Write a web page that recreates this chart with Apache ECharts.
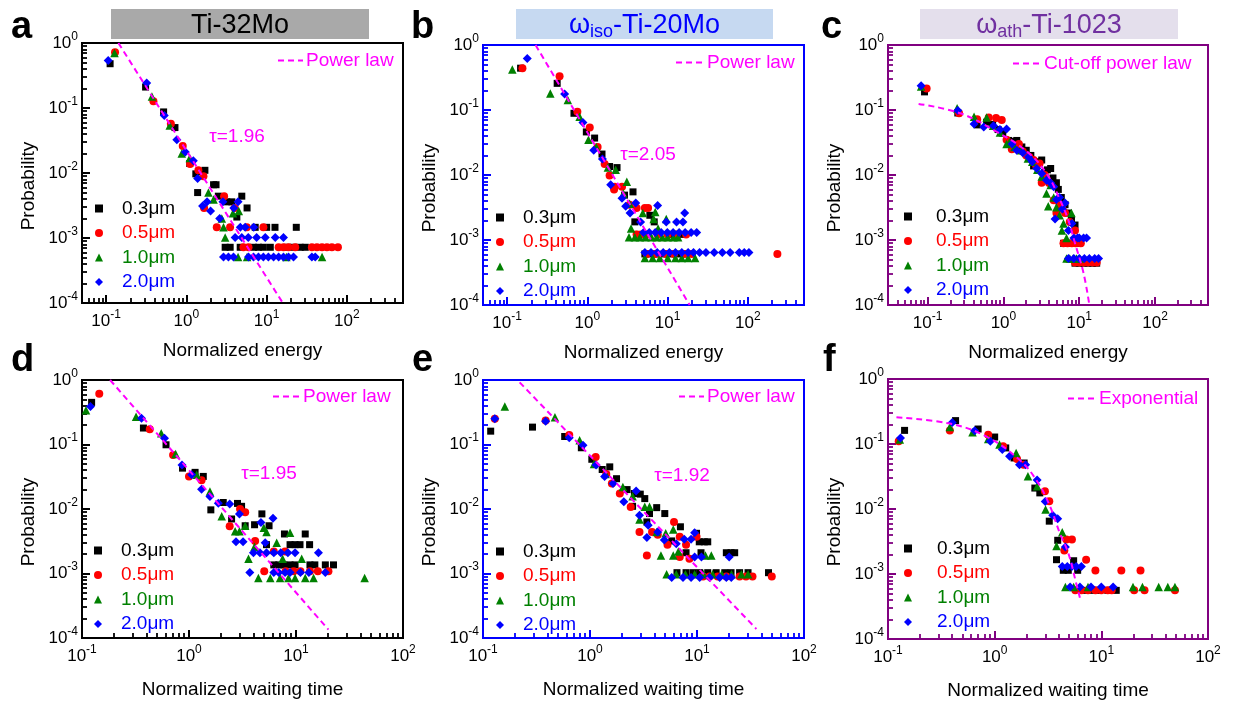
<!DOCTYPE html>
<html><head><meta charset="utf-8">
<script src="https://cdn.jsdelivr.net/npm/echarts@6/dist/echarts.min.js"></script>
<style>html,body{margin:0;padding:0;background:#fff}#c{width:1237px;height:702px}</style>
</head><body><div id="c"></div><script>
// ---------- DATA ----------
const seriesNames = ['0.3μm','0.5μm','1.0μm','2.0μm'];

// panel a : Ti-32Mo, normalized energy
const a03 = [[0.112,0.48],[0.31,0.21],[0.52,0.087],[0.72,0.05],[1.1,0.014],[1.31,0.0097],[1.55,0.0105],[1.7,0.011],[1.38,0.005],[2.18,0.0066],[2.34,0.0066],[2.5,0.0044],[3.18,0.0036],[3.68,0.0036],[4.9,0.0044],[4.25,0.0021],[5.7,0.0029],[7.2,0.00146],[10,0.00146],[12.7,0.00146],[23.4,0.00146],[3.04,0.00072],[3.51,0.00072],[4.68,0.00072],[6.86,0.00072],[7.9,0.00072],[9.1,0.00072],[11.1,0.00072],[17.9,0.00072],[21.6,0.00072],[26.2,0.00072],[30.3,0.00072]];
const a05 = [[0.129,0.72],[0.388,0.127],[0.64,0.057],[0.9,0.026],[1.11,0.0138],[1.41,0.011],[1.63,0.0089],[1.66,0.0029],[2.95,0.0044],[4.0,0.0029],[2.39,0.00146],[3.5,0.00146],[5.66,0.00146],[9.1,0.00146],[5.14,0.00072],[5.94,0.00072],[14.1,0.00072],[16.2,0.00072],[18.7,0.00072],[22.7,0.00072],[36.6,0.00072],[42.3,0.00072],[48.9,0.00072],[56.4,0.00072],[65,0.00072],[77.3,0.00072]];
const a10 = [[0.127,0.70],[0.372,0.15],[0.62,0.054],[0.875,0.02],[1.1,0.017],[1.88,0.005],[2.18,0.0039],[2.76,0.002],[3.8,0.0024],[4.5,0.0026],[2.9,0.00146],[3.04,0.00102],[4.4,0.00051],[5.7,0.00051],[17.6,0.00051],[49,0.00051]];
const a20 = [[0.106,0.54],[0.32,0.243],[0.53,0.077],[0.76,0.0326],[0.97,0.021],[1.22,0.0155],[1.38,0.0082],[1.59,0.0031],[1.81,0.0036],[2.0,0.0026],[2.6,0.002],[2.85,0.0036],[4.4,0.0036],[3.9,0.0029],[4.05,0.00102],[4.9,0.00102],[5.9,0.00102],[7.5,0.00102],[9.6,0.00102],[12.8,0.00102],[16.2,0.00102],[4.7,0.00146],[5.4,0.00146],[6.9,0.00146],[2.9,0.00051],[3.34,0.00051],[3.86,0.00051],[5.94,0.00051],[6.86,0.00051],[7.9,0.00051],[9.1,0.00051],[10.5,0.00051],[12.2,0.00051],[14.1,0.00051],[16.2,0.00051],[18.7,0.00051],[21.6,0.00051],[36.6,0.00051],[40.3,0.00051]];
const fitAX = [0.142, 15.9];
const fitAY = [1, 1e-4];

// panel b : omega_iso-Ti-20Mo, normalized energy
const b03 = [[0.147,0.44],[0.42,0.257],[0.68,0.089],[0.97,0.046],[1.23,0.037],[1.52,0.021],[1.89,0.0135],[2.34,0.013],[2.9,0.0049],[3.7,0.0055],[3.9,0.0019],[6.0,0.0024],[6.8,0.0019],[4.1,0.00122],[5.2,0.00122],[11.7,0.00122],[14.8,0.00122],[5.2,0.00061],[6.0,0.00061],[7.0,0.00061],[9.0,0.00061],[11,0.00061],[14,0.00061],[17,0.00061]];
const b05 = [[0.155,0.44],[0.45,0.33],[0.75,0.094],[1.07,0.054],[1.34,0.027],[1.64,0.0148],[1.89,0.0098],[2.2,0.0066],[2.15,0.006],[2.7,0.0066],[3.35,0.0035],[4.1,0.0031],[5.2,0.0031],[5.7,0.0031],[4.1,0.00122],[4.7,0.00122],[5.5,0.00122],[7.5,0.00122],[10,0.00122],[13,0.00122],[17,0.00122],[5.5,0.00061],[7,0.00061],[9.5,0.00061],[12,0.00061],[16,0.00061],[20,0.00061],[233,0.00061]];
const b10 = [[0.116,0.42],[0.345,0.18],[0.57,0.143],[0.8,0.079],[1.03,0.035],[1.29,0.027],[1.8,0.013],[2.25,0.012],[3.1,0.0079],[2.8,0.0052],[3.35,0.0036],[4.9,0.0026],[7.0,0.0027],[6.7,0.0021],[9.6,0.0021],[3.5,0.0015],[7.6,0.0015],[3.3,0.0011],[3.9,0.0011],[4.5,0.0011],[5.3,0.0011],[6.3,0.0011],[7.3,0.0011],[8.6,0.0011],[10,0.0011],[11.8,0.0011],[13.5,0.0011],[5.2,0.00053],[6.5,0.00053],[8,0.00053],[10,0.00053],[12.5,0.00053],[15,0.00053],[18,0.00053],[22,0.00053]];
const b20 = [[0.178,0.62],[0.52,0.176],[0.88,0.064],[1.2,0.024],[1.54,0.0176],[1.95,0.0071],[2.7,0.0044],[3.0,0.0033],[3.4,0.0026],[4.0,0.0037],[4.6,0.0019],[7.5,0.0034],[9.6,0.0019],[12.9,0.0019],[16.3,0.0026],[15.5,0.0019],[5.0,0.0013],[5.9,0.0013],[7.0,0.0013],[8.3,0.0013],[9.9,0.0013],[11.7,0.0013],[13.9,0.0013],[16.5,0.0013],[19.6,0.0013],[23,0.0013],[5.2,0.00064],[6.2,0.00064],[7.4,0.00064],[8.8,0.00064],[10.5,0.00064],[12.5,0.00064],[15,0.00064],[18,0.00064],[21,0.00064],[25,0.00064],[30,0.00064],[38,0.00064],[48,0.00064],[60,0.00064],[78,0.00064],[90,0.00064],[103,0.00064]];
const fitBX = [0.226, 18.8];
const fitBY = [1, 1e-4];

// panel c : omega_ath-Ti-1023, normalized energy
const c03 = [[0.091,0.19],[0.25,0.09],[0.45,0.059],[0.6,0.065],[0.72,0.06],[0.85,0.05],[0.98,0.044],[1.17,0.034],[1.3,0.033],[1.5,0.034],[1.75,0.027],[2.0,0.024],[2.3,0.02],[2.5,0.0138],[2.8,0.016],[3.2,0.017],[3.5,0.011],[3.8,0.012],[4.2,0.0126],[4.5,0.009],[5.0,0.0076],[5.3,0.006],[5.8,0.0045],[6.5,0.0035],[7.2,0.0026],[7.9,0.0021],[8.8,0.0017],[6.2,0.00089],[7.0,0.00089],[8.0,0.00089],[10,0.00089],[8.8,0.00044],[10,0.00044],[11.5,0.00044],[13,0.00044],[15,0.00044],[17,0.00044]];
const c05 = [[0.097,0.215],[0.26,0.089],[0.45,0.072],[0.64,0.077],[0.8,0.075],[0.95,0.07],[1.1,0.035],[1.29,0.025],[1.4,0.028],[1.6,0.03],[1.8,0.023],[2.0,0.02],[2.2,0.019],[2.5,0.017],[2.7,0.014],[3.0,0.015],[3.2,0.0076],[3.5,0.01],[4.0,0.0075],[4.6,0.0041],[5.0,0.0026],[5.5,0.0035],[6.0,0.003],[6.5,0.0026],[7.5,0.0019],[8.8,0.0014],[6.2,0.00089],[7.0,0.00089],[8.0,0.00089],[9.0,0.00089],[10.5,0.00089],[8.8,0.00045],[10,0.00045],[11.5,0.00045],[13,0.00045],[15,0.00045],[17,0.00045]];
const c10 = [[0.082,0.23],[0.245,0.106],[0.41,0.079],[0.6,0.077],[0.73,0.057],[0.9,0.045],[1.1,0.03],[1.2,0.032],[1.4,0.027],[1.7,0.024],[2.1,0.018],[2.4,0.016],[2.8,0.012],[3.2,0.0095],[3.7,0.0052],[3.9,0.0033],[4.2,0.007],[4.6,0.0045],[5.0,0.0032],[5.5,0.0024],[5.9,0.0014],[6.2,0.0018],[6.8,0.00107],[7.9,0.0026],[6.8,0.00052],[7.5,0.00052],[8.3,0.00052],[9.2,0.00052],[10.2,0.00052]];
const c20 = [[0.082,0.237],[0.25,0.098],[0.41,0.061],[0.55,0.055],[0.74,0.057],[0.9,0.05],[1.1,0.051],[1.3,0.03],[1.5,0.024],[1.8,0.022],[2.14,0.019],[2.4,0.016],[2.75,0.0126],[3.2,0.0105],[3.7,0.0083],[4.2,0.0075],[4.6,0.0066],[5.0,0.0042],[5.5,0.0045],[6.0,0.003],[6.5,0.0037],[4.8,0.0021],[7.2,0.0014],[8.0,0.0018],[8.5,0.00107],[9.5,0.00107],[10,0.00107],[11.4,0.00107],[12.5,0.00107],[7.2,0.00052],[8.5,0.00052],[10,0.00052],[11.7,0.00052],[13.6,0.00052],[16,0.00052],[18,0.00052]];
const fitCX = [0.076, 0.27, 0.82, 2.04, 3.7, 5.6, 7.2, 8.8, 11.4, 13.6];
const fitCY = [0.124, 0.089, 0.046, 0.023, 0.0106, 0.0041, 0.0020, 0.00089, 0.00031, 1e-4];

// panel d : Ti-32Mo, normalized waiting time
const d03 = [[0.123,0.45],[0.375,0.18],[0.61,0.099],[0.87,0.043],[1.14,0.037],[1.36,0.032],[1.6,0.0097],[2.09,0.0126],[2.5,0.007],[2.84,0.0122],[3.1,0.011],[3.35,0.0055],[4.1,0.0057],[4.8,0.0084],[5.6,0.0055],[5.3,0.0028],[7.8,0.0041],[12.2,0.0041],[8.8,0.0028],[9.8,0.0028],[10.9,0.0028],[13.4,0.0028],[6.2,0.00136],[6.9,0.00136],[7.7,0.00136],[8.8,0.00136],[9.8,0.00136],[13.5,0.00136],[15,0.00136],[18.8,0.00136],[22.4,0.00136]];
const d05 = [[0.145,0.61],[0.43,0.172],[0.71,0.069],[1.0,0.032],[1.31,0.028],[2.4,0.0054],[3.0,0.01],[3.35,0.0089],[4.15,0.0032],[6.2,0.0022],[7.9,0.0022],[5.05,0.00108],[8.0,0.00108],[9.5,0.00108],[11,0.00108],[13.5,0.00108],[16,0.00108],[20.1,0.00108]];
const d10 = [[0.109,0.34],[0.32,0.27],[0.55,0.149],[0.75,0.071],[1.18,0.034],[1.57,0.0187],[2.02,0.0077],[2.7,0.0045],[2.96,0.0045],[3.35,0.0055],[3.6,0.0017],[4.1,0.0026],[5.0,0.0051],[5.3,0.0044],[6.6,0.003],[8.8,0.0043],[11.3,0.0017],[7.5,0.0017],[4.45,0.00085],[5.75,0.00085],[7.1,0.00085],[8.5,0.00085],[9.8,0.00085],[12.2,0.00085],[14.6,0.00085],[43.8,0.00085]];
const d20 = [[0.12,0.39],[0.36,0.255],[0.59,0.125],[0.86,0.048],[1.06,0.034],[1.31,0.0203],[1.57,0.0156],[1.88,0.0123],[2.4,0.012],[2.75,0.0031],[3.2,0.0031],[2.96,0.0084],[4.7,0.0062],[5.15,0.003],[6.1,0.0072],[4.0,0.0021],[4.6,0.0021],[5.3,0.0021],[6.2,0.0021],[7.2,0.0021],[8.4,0.0021],[9.8,0.0021],[16.2,0.0021],[3.7,0.00104],[6.2,0.00104],[6.9,0.00104],[7.9,0.00104],[8.8,0.00104],[11,0.00104],[13.2,0.00104],[18.8,0.00104]];
const fitDX = [0.183, 20.1];
const fitDY = [1, 1.35e-4];

// panel e : omega_iso-Ti-20Mo, normalized waiting time
const e03 = [[0.118,0.161],[0.29,0.186],[0.58,0.133],[0.83,0.089],[1.04,0.059],[1.3,0.041],[1.53,0.045],[1.77,0.0295],[2.22,0.02],[2.6,0.0174],[2.95,0.017],[3.25,0.0145],[2.5,0.011],[3.6,0.0085],[4.2,0.0105],[3.4,0.0063],[5.0,0.0085],[5.8,0.0032],[7.0,0.0053],[9.9,0.0042],[7.9,0.0021],[10.5,0.0031],[11.7,0.0031],[12.6,0.0031],[10.9,0.0021],[18.8,0.0021],[20.8,0.0021],[22.5,0.0021],[6.5,0.00103],[7.9,0.00103],[9.2,0.00103],[10.6,0.00103],[12.6,0.00103],[15.1,0.00103],[18.2,0.00103],[20.8,0.00103],[25,0.00103],[30,0.00103],[46.6,0.00103]];
const e05 = [[0.129,0.25],[0.385,0.236],[0.64,0.141],[1.13,0.064],[1.42,0.035],[1.6,0.0248],[1.9,0.0174],[2.4,0.0107],[2.9,0.0044],[3.4,0.0019],[3.8,0.0044],[4.3,0.004],[5.3,0.0028],[6.1,0.0063],[6.9,0.0037],[7.9,0.0028],[8.5,0.0017],[6.9,0.0018],[9.9,0.0037],[11.4,0.0009],[13.1,0.0009],[15.6,0.0009],[18.8,0.0009],[25,0.0009],[28.7,0.0009],[33,0.0009],[50,0.0009]];
const e10 = [[0.16,0.39],[0.47,0.265],[0.8,0.116],[1.09,0.05],[1.4,0.035],[2.03,0.022],[2.5,0.0158],[2.9,0.0069],[3.25,0.0108],[3.6,0.0108],[4.2,0.0044],[5.1,0.0042],[6.0,0.0048],[6.7,0.0022],[4.6,0.0019],[6.0,0.0019],[12,0.0019],[13.6,0.0019],[5.2,0.00097],[6.4,0.00097],[7.8,0.00097],[9.5,0.00097],[11.5,0.00097],[14,0.00097],[17,0.00097],[21,0.00097],[26,0.00097],[30,0.00097]];
const e20 = [[0.129,0.25],[0.385,0.23],[0.64,0.127],[0.86,0.097],[1.14,0.048],[1.37,0.032],[1.64,0.0248],[2.07,0.0129],[2.7,0.019],[2.9,0.008],[3.5,0.0056],[3.4,0.0036],[4.3,0.0044],[4.95,0.0033],[6.4,0.0029],[7.6,0.0034],[8.8,0.0034],[9.5,0.0043],[9.5,0.0018],[11,0.0018],[20,0.0018],[5.8,0.00087],[7.4,0.00087],[8.8,0.00087],[10.6,0.00087],[13.1,0.00087],[16.3,0.00087],[18.8,0.00087],[20.9,0.00087]];
const fitEX = [0.22, 35.9];
const fitEY = [0.92, 1.38e-4];

// panel f : omega_ath-Ti-1023, normalized waiting time
const f03 = [[0.143,0.162],[0.43,0.229],[0.7,0.17],[1.0,0.128],[1.27,0.087],[1.52,0.061],[1.89,0.051],[2.38,0.021],[2.65,0.0177],[3.25,0.0065],[3.9,0.0033],[3.8,0.00166],[4.4,0.00114],[4.9,0.00114],[5.5,0.0016],[6.0,0.00114],[6.9,0.00056],[8,0.00056],[9.5,0.00056],[11.5,0.00056],[13.8,0.00056]];
const f05 = [[0.126,0.11],[0.38,0.162],[0.87,0.139],[1.2,0.092],[1.62,0.059],[1.87,0.048],[2.96,0.0187],[3.25,0.0132],[4.7,0.0034],[5.3,0.0034],[4.5,0.0023],[7.2,0.00166],[8.8,0.00113],[15.4,0.00113],[23.3,0.00113],[5.7,0.00056],[6.5,0.00056],[7.5,0.00056],[8.8,0.00056],[10,0.00056],[11.5,0.00056],[12.5,0.00056],[20.3,0.00056],[25.4,0.00056],[49,0.00056]];
const f10 = [[0.129,0.117],[0.38,0.183],[0.62,0.151],[0.87,0.119],[1.11,0.098],[1.59,0.073],[2.05,0.032],[2.5,0.0224],[3.0,0.0098],[3.8,0.0027],[4.3,0.0044],[4.6,0.00063],[5.5,0.00063],[7.5,0.00063],[19.8,0.00063],[24.3,0.00063],[34.5,0.00063],[42,0.00063],[49,0.00063]];
const f20 = [[0.131,0.124],[0.4,0.215],[0.65,0.16],[0.91,0.11],[1.18,0.082],[1.38,0.065],[1.71,0.048],[1.95,0.048],[2.5,0.028],[2.98,0.013],[3.5,0.008],[3.9,0.0071],[4.6,0.0026],[4.3,0.00131],[4.8,0.00131],[5.3,0.00131],[5.8,0.00131],[6.5,0.00131],[5.1,0.00063],[6.3,0.00063],[8.0,0.00063],[10,0.00063],[12.9,0.00063]];
const fitFX = [0.12, 0.38, 0.83, 1.71, 2.5, 3.3, 4.07, 4.9, 5.8, 6.3];
const fitFY = [0.257, 0.206, 0.131, 0.057, 0.0267, 0.011, 0.0043, 0.0021, 0.00073, 0.00043];

const tauLabels = ['τ=1.96', 'τ=2.05', 'τ=1.95', 'τ=1.92'];

// ---------- STYLE / LAYOUT ----------
const FONT = '"Liberation Sans", Arial, sans-serif';
const MAG = '#ff00ff';
const COLORS = ['#000000', '#ff0000', '#008000', '#0000ff'];
const SYMBOLS = ['rect', 'circle', 'triangle', 'diamond'];
const SIZES = [7, 8, 8.5, 9];
const Y_MIN = 1e-4, Y_MAX = 1;

const panels = [
  {sets:[a03,a05,a10,a20], fx:fitAX, fy:fitAY, fitName:'Power law', smooth:false, xMin:0.05, xMax:500,
   grid:{left:82, top:43, width:321, height:260}, frame:'#000000', xName:'Normalized energy', nameGap:38,
   leg:{left:95, top:199, pad:14}, fleg:{left:277, top:51, w:25}},
  {sets:[b03,b05,b10,b20], fx:fitBX, fy:fitBY, fitName:'Power law', smooth:false, xMin:0.05, xMax:500,
   grid:{left:483, top:45, width:321, height:260}, frame:'#0000ff', xName:'Normalized energy', nameGap:38,
   leg:{left:496, top:208, pad:14}, fleg:{left:675, top:53, w:28}},
  {sets:[c03,c05,c10,c20], fx:fitCX, fy:fitCY, fitName:'Cut-off power law', smooth:true, xMin:0.03, xMax:500,
   grid:{left:888, top:45, width:320, height:260}, frame:'#800080', xName:'Normalized energy', nameGap:38,
   leg:{left:904, top:207, pad:19}, fleg:{left:1012, top:54, w:28}},
  {sets:[d03,d05,d10,d20], fx:fitDX, fy:fitDY, fitName:'Power law', smooth:false, xMin:0.1, xMax:100,
   grid:{left:82, top:380, width:321, height:258}, frame:'#000000', xName:'Normalized waiting time', nameGap:42,
   leg:{left:94, top:541, pad:14}, fleg:{left:272, top:387, w:27}},
  {sets:[e03,e05,e10,e20], fx:fitEX, fy:fitEY, fitName:'Power law', smooth:false, xMin:0.1, xMax:100,
   grid:{left:483, top:380, width:321, height:258}, frame:'#0000ff', xName:'Normalized waiting time', nameGap:42,
   leg:{left:496, top:542, pad:14}, fleg:{left:678, top:387, w:25}},
  {sets:[f03,f05,f10,f20], fx:fitFX, fy:fitFY, fitName:'Exponential', smooth:true, xMin:0.1, xMax:100,
   grid:{left:888, top:379, width:320, height:260}, frame:'#800080', xName:'Normalized waiting time', nameGap:42,
   leg:{left:904, top:539, pad:20}, fleg:{left:1067, top:389, w:28}}
];

function supLabel(v) {
  const l = Math.log10(v);
  const e = Math.round(l);
  if (Math.abs(l - e) > 1e-6) return '';
  return '{m|10}{s|' + (e < 0 ? '-' + (-e) : String(e)) + '}';
}
const richTick = {
  m: {fontSize: 17, fontFamily: FONT, color: '#000'},
  s: {fontSize: 12, fontFamily: FONT, color: '#000', padding: [0, 0, 13, 0]}
};

const option = {
  animation: false,
  backgroundColor: '#ffffff',
  grid: [], xAxis: [], yAxis: [], series: [], legend: [],
  graphic: []
};

panels.forEach((p, i) => {
  option.grid.push(Object.assign({show: true, borderColor: p.frame, borderWidth: 2}, p.grid));
  const tick = {show: true, inside: true, length: 8, lineStyle: {color: p.frame, width: 2}};
  const minor = {show: true, splitNumber: 9, length: 5, lineStyle: {color: p.frame, width: 1.8}};
  option.xAxis.push({
    type: 'log', logBase: 10, gridIndex: i, min: p.xMin, max: p.xMax,
    name: p.xName, nameLocation: 'middle', nameGap: p.nameGap,
    nameTextStyle: {fontSize: 19, fontFamily: FONT, color: '#000'},
    axisLine: {show: true, lineStyle: {color: p.frame, width: 2}},
    axisTick: tick, minorTick: minor,
    axisLabel: {margin: 6, formatter: supLabel, rich: richTick, showMinLabel: true, showMaxLabel: true},
    splitLine: {show: false}, minorSplitLine: {show: false}
  });
  option.yAxis.push({
    type: 'log', logBase: 10, gridIndex: i, min: Y_MIN, max: Y_MAX,
    name: 'Probability', nameLocation: 'middle', nameGap: 44,
    nameTextStyle: {fontSize: 19, fontFamily: FONT, color: '#000', padding: [0, 26, 0, 0]},
    axisLine: {show: true, lineStyle: {color: p.frame, width: 2}},
    axisTick: tick, minorTick: minor,
    axisLabel: {margin: 4, formatter: supLabel, rich: richTick},
    splitLine: {show: false}, minorSplitLine: {show: false}
  });
  p.sets.forEach((set, k) => {
    option.series.push({
      type: 'scatter', name: seriesNames[k], xAxisIndex: i, yAxisIndex: i,
      symbol: SYMBOLS[k], symbolSize: SIZES[k], data: set,
      itemStyle: {color: COLORS[k], opacity: 1}, z: 2 + k
    });
  });
  option.series.push({
    type: 'line', name: p.fitName, xAxisIndex: i, yAxisIndex: i,
    data: p.fx.map((x, j) => [x, p.fy[j]]), smooth: p.smooth ? 0.4 : false,
    symbol: 'none', showSymbol: false,
    lineStyle: {color: MAG, width: 2, type: [6, 4]}, itemStyle: {color: MAG}, z: 10
  });
  option.legend.push({
    orient: 'vertical', left: p.leg.left, top: p.leg.top, itemWidth: 8, itemHeight: 8, itemGap: 5.5,
    selectedMode: false, padding: 0,
    textStyle: {fontSize: 19, fontFamily: FONT, padding: [0, 0, 0, p.leg.pad]},
    data: seriesNames.map((n, k) => ({name: n, textStyle: {color: COLORS[k], padding: [0, 0, 0, p.leg.pad]}}))
  });
  option.legend.push({
    orient: 'horizontal', left: p.fleg.left, top: p.fleg.top, itemWidth: p.fleg.w, itemHeight: 10, padding: 0,
    selectedMode: false,
    itemStyle: {opacity: 0},
    lineStyle: {color: MAG, width: 2, type: [6, 4], opacity: 1},
    textStyle: {fontSize: 19, fontFamily: FONT, color: MAG, padding: [0, 0, 0, -2]},
    data: [{name: p.fitName, textStyle: {color: MAG}}]
  });
});

// panel letters
const letters = ['a','b','c','d','e','f'];
const letterPos = [[11,41],[411,41],[821,41],[11,374],[412,374],[823,374]];
letters.forEach((t, i) => {
  option.graphic.push({type: 'text', x: letterPos[i][0], y: letterPos[i][1] - 13, z: 100,
    style: {text: t, font: 'bold 38px ' + FONT, fill: '#000', align: 'left', verticalAlign: 'middle'}});
});
// header boxes
const headers = [
  {x:111, w:258, fill:'#a9a9a9', color:'#000000', text:'{w|Ti-32Mo}'},
  {x:516, w:257, fill:'#c6d9f1', color:'#0000ff', text:'{w|ω}{sub|iso}{w|-Ti-20Mo}'},
  {x:920, w:258, fill:'#e4dfec', color:'#7030a0', text:'{w|ω}{sub|ath}{w|-Ti-1023}'}
];
headers.forEach(h => {
  option.graphic.push({type: 'rect', shape: {x: h.x, y: 9, width: h.w, height: 30}, style: {fill: h.fill}, z: 90});
  option.graphic.push({type: 'text', x: h.x + h.w / 2, y: 26, z: 100,
    style: {text: h.text, align: 'center', verticalAlign: 'middle', fill: h.color,
      rich: {w: {fontSize: 27, fontFamily: FONT, fill: h.color, color: h.color},
             sub: {fontSize: 18, fontFamily: FONT, fill: h.color, color: h.color, padding: [12, 0, 0, 0]}}}});
});
// tau annotations
const tauPos = [[237,137],[648,155],[269,474],[682,476]];
tauLabels.forEach((t, i) => {
  option.graphic.push({type: 'text', x: tauPos[i][0], y: tauPos[i][1], z: 100,
    style: {text: t, font: '19px ' + FONT, fill: MAG, align: 'center', verticalAlign: 'middle'}});
});

const chart = echarts.init(document.getElementById('c'), null, {renderer: 'canvas'});
chart.setOption(option);
</script></body></html>
